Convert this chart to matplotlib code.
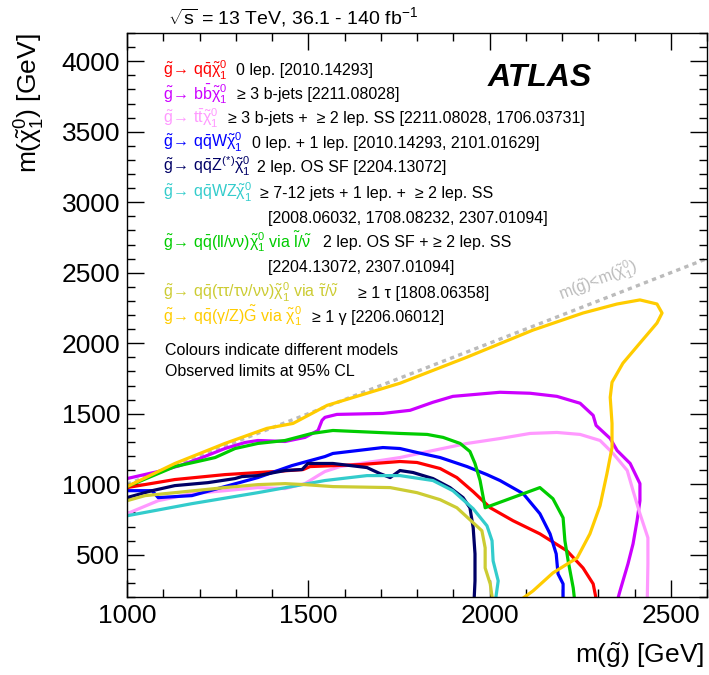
import numpy as np
import matplotlib
matplotlib.use('Agg')
import matplotlib.pyplot as plt

plt.rcParams['font.family'] = ['Liberation Sans', 'DejaVu Sans']
plt.rcParams['mathtext.fontset'] = 'custom'
plt.rcParams['mathtext.rm'] = 'Liberation Sans'
plt.rcParams['mathtext.it'] = 'Liberation Sans'
plt.rcParams['mathtext.sf'] = 'Liberation Sans'
plt.rcParams['mathtext.bf'] = 'Liberation Sans:bold'

# exclusion contours, m(gluino) vs m(neutralino) [GeV]
red_x = [1000, 1132, 1270, 1408, 1486, 1505, 1643, 1753, 1800, 1864, 1910, 1955, 2002, 2065, 2139, 2214, 2258, 2286, 2297]
red_y = [976, 1033, 1068, 1090, 1104, 1125, 1139, 1161, 1154, 1111, 1047, 947, 833, 741, 648, 527, 406, 293, 150]

mag_x = [1000, 1086, 1146, 1207, 1270, 1326, 1361, 1436, 1491, 1527, 1538, 1546, 1579, 1706, 1781, 1844, 1899, 2029, 2112,
         2186, 2250, 2286, 2294, 2333, 2352, 2388, 2415, 2415, 2407, 2396, 2382, 2360, 2350]
mag_y = [1040, 1090, 1132, 1189, 1253, 1296, 1310, 1303, 1332, 1381, 1453, 1474, 1495, 1502, 1524, 1581, 1623, 1652, 1645,
         1623, 1574, 1488, 1417, 1324, 1239, 1147, 1004, 883, 741, 577, 435, 243, 150]

pink_x = [1000, 1086, 1179, 1270, 1361, 1436, 1491, 1527, 1546, 1588, 1662, 1753, 1844, 1938, 2029, 2112, 2186, 2250, 2305,
          2341, 2380, 2396, 2415, 2437, 2437, 2435]
pink_y = [791, 883, 933, 954, 976, 969, 1004, 1061, 1090, 1125, 1154, 1189, 1239, 1289, 1324, 1360, 1367, 1353, 1310,
          1218, 1097, 954, 791, 620, 435, 150]

blue_x = [1000, 1069, 1086, 1179, 1270, 1361, 1455, 1546, 1568, 1706, 1753, 1800, 1864, 1938, 1993, 2029, 2093, 2139,
          2167, 2184, 2189, 2203, 2203]
blue_y = [954, 954, 905, 919, 983, 1047, 1132, 1196, 1218, 1260, 1253, 1225, 1189, 1125, 1068, 1026, 933, 791,
          648, 506, 364, 293, 150]

navy_x = [1000, 1069, 1132, 1223, 1298, 1317, 1361, 1436, 1483, 1499, 1568, 1662, 1698, 1726, 1753, 1789, 1844, 1891,
          1927, 1946, 1955, 1960, 1960, 1957]
navy_y = [905, 954, 990, 1011, 1040, 1054, 1061, 1097, 1104, 1147, 1147, 1118, 1075, 1047, 1097, 1083, 1040, 976,
          905, 833, 691, 506, 314, 150]

cyan_x = [1000, 1179, 1361, 1546, 1662, 1753, 1844, 1899, 1955, 1993, 2007, 2010, 2024, 2015]
cyan_y = [776, 862, 940, 1026, 1061, 1061, 1026, 954, 826, 705, 599, 456, 314, 150]

green_x = [1000, 1132, 1207, 1243, 1298, 1361, 1436, 1510, 1568, 1753, 1828, 1872, 1919, 1946, 1960, 1974, 1988, 2139,
           2175, 2203, 2208, 2217, 2231, 2236]
green_y = [983, 1125, 1168, 1189, 1253, 1289, 1310, 1360, 1381, 1360, 1353, 1332, 1289, 1232, 1147, 1026, 833, 976,
           897, 762, 599, 456, 264, 150]

olive_x = [1000, 1050, 1132, 1270, 1361, 1436, 1491, 1568, 1726, 1800, 1864, 1910, 1946, 1979, 1988, 1988, 2002, 2010]
olive_y = [883, 919, 940, 976, 997, 1004, 997, 983, 976, 940, 890, 833, 748, 670, 549, 406, 293, 150]

gold_x = [1000, 1132, 1270, 1386, 1458, 1552, 1753, 1938, 2120, 2258, 2352, 2415, 2462, 2476, 2462, 2415, 2368, 2338,
          2333, 2338, 2338, 2324, 2305, 2277, 2242, 2175, 2120, 2070]
gold_y = [983, 1147, 1289, 1396, 1431, 1559, 1716, 1901, 2093, 2214, 2278, 2307, 2278, 2214, 2143, 2001, 1858, 1723,
          1616, 1431, 1260, 1075, 848, 648, 478, 371, 243, 150]

diag_x = [1000, 2600]
diag_y = [1000, 2600]

curves = [
    (mag_x, mag_y, '#cc00ff'),
    (pink_x, pink_y, '#ff99ff'),
    (red_x, red_y, '#ff0000'),
    (blue_x, blue_y, '#0000ff'),
    (navy_x, navy_y, '#000066'),
    (cyan_x, cyan_y, '#33cccc'),
    (olive_x, olive_y, '#cccc33'),
    (green_x, green_y, '#00cc00'),
    (gold_x, gold_y, '#ffcc00'),
]

# legend entries: coloured process, black description
leg_proc = [
    r'$\tilde{g}\!\rightarrow\, q\bar{q}\tilde{\chi}^{0}_{1}$',
    r'$\tilde{g}\!\rightarrow\, b\bar{b}\tilde{\chi}^{0}_{1}$',
    r'$\tilde{g}\!\rightarrow\, t\bar{t}\tilde{\chi}^{0}_{1}$',
    r'$\tilde{g}\!\rightarrow\, q\bar{q}W\tilde{\chi}^{0}_{1}$',
    r'$\tilde{g}\!\rightarrow\, q\bar{q}Z^{(*)}\tilde{\chi}^{0}_{1}$',
    r'$\tilde{g}\!\rightarrow\, q\bar{q}WZ\tilde{\chi}^{0}_{1}$',
    r'$\tilde{g}\!\rightarrow\, q\bar{q}(ll/\nu\nu)\tilde{\chi}^{0}_{1}$ via $\tilde{l}/\tilde{\nu}$',
    r'$\tilde{g}\!\rightarrow\, q\bar{q}(\tau\tau/\tau\nu/\nu\nu)\tilde{\chi}^{0}_{1}$ via $\tilde{\tau}/\tilde{\nu}$',
    r'$\tilde{g}\!\rightarrow\, q\bar{q}(\gamma/Z)\tilde{G}$ via $\tilde{\chi}^{0}_{1}$',
]
leg_desc = [
    '0 lep. [2010.14293]',
    '\u2265 3 b-jets [2211.08028]',
    '\u2265 3 b-jets +  \u2265 2 lep. SS [2211.08028, 1706.03731]',
    '0 lep. + 1 lep. [2010.14293, 2101.01629]',
    '2 lep. OS SF [2204.13072]',
    '\u2265 7-12 jets + 1 lep. +  \u2265 2 lep. SS',
    '2 lep. OS SF + \u2265 2 lep. SS',
    '\u2265 1 \u03c4 [1808.06358]',
    '\u2265 1 \u03b3 [2206.06012]',
]
leg_extra = ['', '', '', '', '', '[2008.06032, 1708.08232, 2307.01094]', '[2204.13072, 2307.01094]', '', '']
leg_colors = ['#ff0000', '#cc00ff', '#ff99ff', '#0000ff', '#000066', '#33cccc', '#00cc00', '#cccc33', '#ffcc00']

W, H = 709, 675
fig = plt.figure(figsize=(W / 100, H / 100), dpi=100)
ax = fig.add_axes([127 / W, 1 - 597 / H, 580 / W, 564 / H])


def px(x, y):
    return x / W, 1 - y / H


ax.plot(diag_x, diag_y, color='#bbbbbb', lw=2.4, ls=(0, (1.3, 1.3)), zorder=1)
for xs, ys, c in curves:
    ax.plot(xs, ys, color=c, lw=2.3, solid_joinstyle='round', zorder=2)

ax.set_xlim(1000, 2600)
ax.set_ylim(200, 4200)
ax.set_xticks(np.arange(1000, 2600, 500))
ax.set_yticks(np.arange(500, 4001, 500))
ax.set_xticks(np.arange(1000, 2601, 100), minor=True)
ax.set_yticks(np.arange(200, 4201, 100), minor=True)
ax.tick_params(which='both', direction='in', top=True, right=True, width=1.0, labelsize=19)
ax.tick_params(which='major', length=12)
ax.tick_params(which='minor', length=6)
ax.tick_params(axis='x', pad=5)
ax.tick_params(axis='y', pad=5)
for s in ax.spines.values():
    s.set_linewidth(1.0)

fig.text(*px(704, 655), r'm($\tilde{g}$) [GeV]', fontsize=19, ha='right', va='center')
fig.text(*px(30, 33), r'm($\tilde{\chi}^{0}_{1}$) [GeV]', fontsize=19, ha='center', va='top', rotation=90)
fig.text(*px(168, 17), r'$\sqrt{s}$ = 13 TeV, 36.1 - 140 fb$^{-1}$', fontsize=14, ha='left', va='center')
fig.text(*px(488, 78), 'ATLAS', fontsize=23, fontweight='bold', fontstyle='italic', ha='left', va='center')

# legend rows
row_y = [75, 99, 123, 148, 172, 198, 247, 298, 322]
desc_x = [236, 237, 228, 252, 257, 260, 323, 358, 312]
for i in range(len(leg_proc)):
    fig.text(*px(163, row_y[i]), leg_proc[i], color=leg_colors[i], fontsize=11.5, ha='left', va='baseline')
    fig.text(*px(desc_x[i], row_y[i]), leg_desc[i], color='black', fontsize=11.5, ha='left', va='baseline')
    if leg_extra[i]:
        fig.text(*px(268, row_y[i] + 25), leg_extra[i], color='black', fontsize=11.5, ha='left', va='baseline')

fig.text(*px(165, 355), 'Colours indicate different models', fontsize=11.5, ha='left', va='baseline')
fig.text(*px(165, 376), 'Observed limits at 95% CL', fontsize=11.5, ha='left', va='baseline')

ax.text(2300, 2440, r'm($\tilde{g}$)<m($\tilde{\chi}^{0}_{1}$)', color='#bbbbbb', fontsize=11.5,
        rotation=21.2, rotation_mode='anchor', ha='center', va='center')

fig.savefig('out.png', dpi=100)
